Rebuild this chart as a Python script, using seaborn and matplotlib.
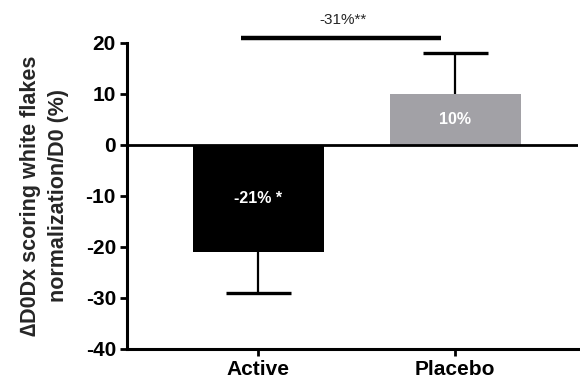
import matplotlib
matplotlib.use("Agg")
import matplotlib.pyplot as plt
import seaborn as sns
import pandas as pd

# Data
groups = ["Active", "Placebo"]
values = [-21, 10]
errors = [8, 8]
bar_labels = ["-21% *", "10%"]
bar_colors = ["#000000", "#A2A1A6"]
diff_label = "-31%**"
y_ticks = [-40, -30, -20, -10, 0, 10, 20]

sns.set_theme(style="white")
plt.rcParams["font.family"] = ["Liberation Sans", "DejaVu Sans"]

df = pd.DataFrame({"group": groups, "value": values})

fig = plt.figure(figsize=(5.8, 3.86), dpi=100)
ax = fig.add_axes([0.219, 0.096, 0.778, 0.793])

sns.barplot(data=df, x="group", y="value", hue="group", palette=bar_colors,
            width=0.665, legend=False, ax=ax, linewidth=0, saturation=1)

# one-sided error bars pointing away from zero
for i, (v, e) in enumerate(zip(values, errors)):
    end = v - e if v < 0 else v + e
    ax.vlines(i, v, end, color="black", lw=1.6, zorder=3)
    ax.hlines(end, i - 0.165, i + 0.165, color="black", lw=2.4, zorder=3)
    ax.text(i, v / 2, bar_labels[i], color="white", ha="center", va="center",
            fontsize=11.5, fontweight="bold", zorder=4)

# zero baseline
ax.axhline(0, color="black", lw=2.0, zorder=2)

# comparison bracket between groups
ax.plot([-0.086, 0.929], [21, 21], color="black", lw=3.2, clip_on=False,
        solid_capstyle="butt", zorder=5)
ax.text(0.43, 23.2, diff_label, ha="center", va="bottom", fontsize=11,
        clip_on=False)

ax.set_xlim(-0.665, 1.624)
ax.set_ylim(-40, 20)
ax.set_yticks(y_ticks)
ax.set_yticklabels([str(t) for t in y_ticks], fontsize=15, fontweight="bold")
ax.set_xticks(range(len(groups)))
ax.set_xticklabels(groups, fontsize=15, fontweight="bold")
ax.set_xlabel("")
ax.set_ylabel("\u2206D0Dx scoring white flakes\nnormalization/D0 (%)",
              fontsize=15.5, fontweight="bold", labelpad=12, linespacing=1.4)

sns.despine(ax=ax)
for side in ["left", "bottom"]:
    ax.spines[side].set_linewidth(2.2)
    ax.spines[side].set_color("black")
ax.tick_params(axis="y", direction="out", length=5, width=2, pad=3,
               colors="black", left=True)
ax.tick_params(axis="x", direction="out", length=5, width=2, pad=3,
               colors="black", bottom=True)

fig.savefig("out.png", dpi=100)
